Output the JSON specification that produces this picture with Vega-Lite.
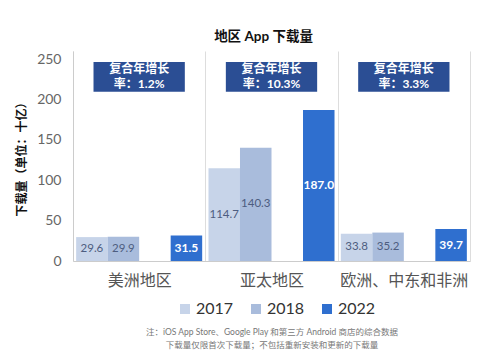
{
  "$schema": "https://vega.github.io/schema/vega-lite/v6.json",
  "width": 397,
  "height": 210,
  "autosize": {"type": "none"},
  "padding": {"left": 73, "top": 51, "right": 10, "bottom": 94},
  "background": "white",
  "config": {
    "font": "Lato, Noto Sans CJK SC, sans-serif",
    "view": {"stroke": null}
  },
  "title": {
    "text": "地区 App 下载量",
    "fontSize": 13.5,
    "fontWeight": "bold",
    "color": "#111111",
    "anchor": "middle",
    "offset": 8,
    "dx": -8
  },
  "datasets": {
    "bars": [
      {"region": "美洲地区", "year": "2017", "value": 29.6},
      {"region": "美洲地区", "year": "2018", "value": 29.9},
      {"region": "美洲地区", "year": "2022", "value": 31.5},
      {"region": "亚太地区", "year": "2017", "value": 114.7},
      {"region": "亚太地区", "year": "2018", "value": 140.3},
      {"region": "亚太地区", "year": "2022", "value": 187.0},
      {"region": "欧洲、中东和非洲", "year": "2017", "value": 33.8},
      {"region": "欧洲、中东和非洲", "year": "2018", "value": 35.2},
      {"region": "欧洲、中东和非洲", "year": "2022", "value": 39.7}
    ],
    "notes": [
      {"region": "美洲地区", "label": "复合年增长\n率：1.2%"},
      {"region": "亚太地区", "label": "复合年增长\n率：10.3%"},
      {"region": "欧洲、中东和非洲", "label": "复合年增长\n率：3.3%"}
    ]
  },
  "encoding": {
    "x": {
      "field": "region",
      "type": "nominal",
      "sort": ["美洲地区", "亚太地区", "欧洲、中东和非洲"],
      "scale": {"paddingInner": 0, "paddingOuter": 0},
      "axis": {
        "title": ["注：iOS App Store、Google Play 和第三方 Android 商店的综合数据", "下载量仅限首次下载量；不包括重新安装和更新的下载量"],
        "titleFontSize": 8.5,
        "titleFontWeight": "normal",
        "titleColor": "#777777",
        "titlePadding": 39,
        "titleLineHeight": 13,
        "labelAngle": 0,
        "labelFontSize": 16,
        "labelColor": "#555555",
        "labelPadding": 11,
        "ticks": false,
        "tickBand": "extent",
        "grid": true,
        "gridColor": "#dddddd",
        "domainColor": "#cccccc"
      }
    }
  },
  "layer": [
    {
      "data": {"name": "bars"},
      "mark": {"type": "bar"},
      "encoding": {
        "xOffset": {
          "field": "year",
          "type": "nominal",
          "scale": {"domain": ["2017", "2018", "gap", "2022"], "paddingInner": 0, "paddingOuter": 0.1}
        },
        "y": {
          "field": "value",
          "type": "quantitative",
          "scale": {"domain": [0, 250]},
          "axis": {
            "title": "下载量（单位：十亿）",
            "titleFontSize": 12,
            "titleFontWeight": "bold",
            "titleColor": "#111111",
            "titlePadding": 8,
            "values": [0, 50, 100, 150, 200, 250],
            "labelFontSize": 14,
            "labelColor": "#666666",
            "labelPadding": 12,
            "ticks": false,
            "grid": false,
            "domainColor": "#cccccc"
          }
        },
        "color": {
          "field": "year",
          "type": "nominal",
          "scale": {"domain": ["2017", "2018", "2022"], "range": ["#c7d4e9", "#a9bcdc", "#2f6fcf"]},
          "legend": {
            "title": null,
            "orient": "none",
            "direction": "horizontal",
            "legendX": 104,
            "legendY": 250,
            "symbolType": "square",
            "symbolSize": 100,
            "symbolStrokeWidth": 0,
            "labelFontSize": 16,
            "labelColor": "#333333",
            "columnPadding": 14,
            "labelOffset": 3
          }
        }
      }
    },
    {
      "data": {"name": "bars"},
      "transform": [
        {"filter": "datum.year != '2022'"},
        {"calculate": "datum.value / 2", "as": "mid"}
      ],
      "mark": {"type": "text", "fontSize": 11.5, "color": "#4d5d80", "baseline": "middle"},
      "encoding": {
        "xOffset": {"field": "year", "type": "nominal", "scale": {"domain": ["2017", "2018", "gap", "2022"], "paddingInner": 0, "paddingOuter": 0.1}},
        "y": {"field": "mid", "type": "quantitative"},
        "text": {"field": "value", "type": "quantitative", "format": ".1f"}
      }
    },
    {
      "data": {"name": "bars"},
      "transform": [
        {"filter": "datum.year == '2022'"},
        {"calculate": "datum.value / 2", "as": "mid"}
      ],
      "mark": {"type": "text", "fontSize": 12, "fontWeight": "bold", "color": "white", "baseline": "middle"},
      "encoding": {
        "xOffset": {"field": "year", "type": "nominal", "scale": {"domain": ["2017", "2018", "gap", "2022"], "paddingInner": 0, "paddingOuter": 0.1}},
        "y": {"field": "mid", "type": "quantitative"},
        "text": {"field": "value", "type": "quantitative", "format": ".1f"}
      }
    },
    {
      "data": {"name": "notes"},
      "mark": {"type": "bar", "color": "#2b4e94", "width": {"band": 0.69}},
      "encoding": {
        "y": {"datum": 246.5},
        "y2": {"datum": 209.5}
      }
    },
    {
      "data": {"name": "notes"},
      "mark": {"type": "text", "fontSize": 12, "fontWeight": "bold", "color": "white", "lineBreak": "\n", "lineHeight": 15, "baseline": "middle"},
      "encoding": {
        "y": {"datum": 237.5},
        "text": {"field": "label"}
      }
    }
  ]
}
